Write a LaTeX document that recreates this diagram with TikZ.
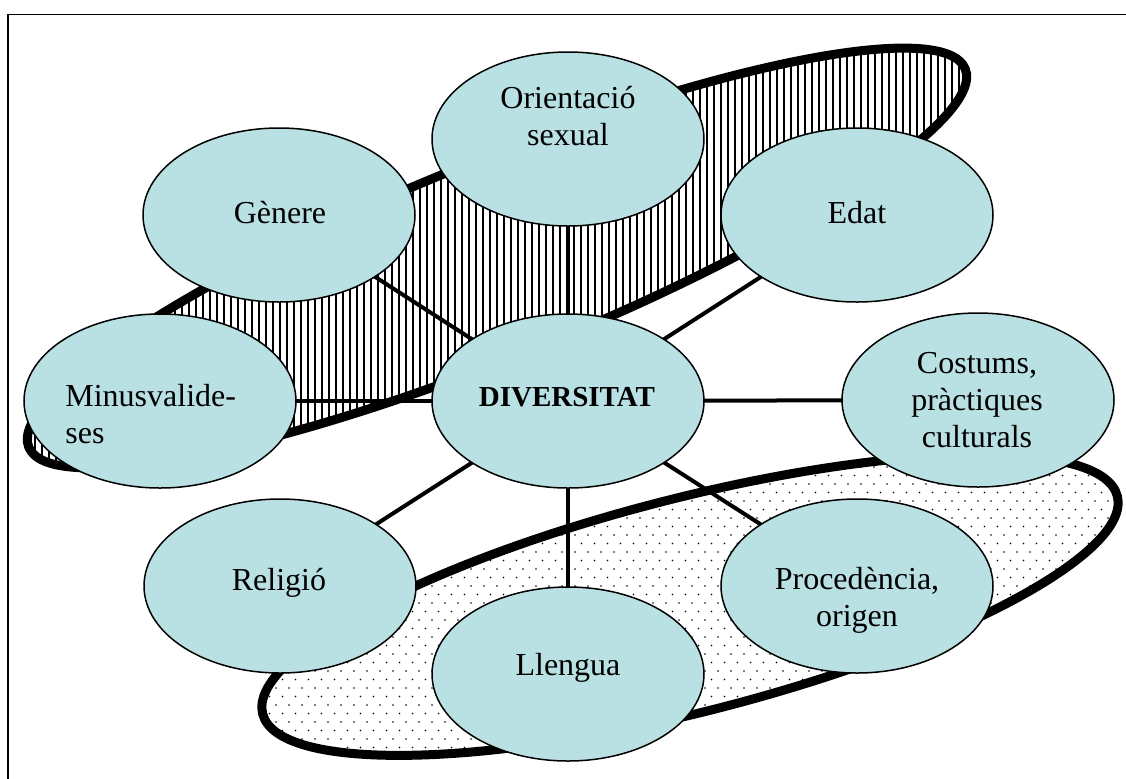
\documentclass[tikz,border=0pt]{standalone}
\usepackage{fontspec}
\setmainfont{Liberation Serif}
\usetikzlibrary{shapes.geometric}
\definecolor{nodeblue}{RGB}{185,224,227}
\pgfdeclarelayer{bg}
\pgfsetlayers{bg,main}
\begin{document}
\begin{tikzpicture}[x=0.5pt,y=0.5pt,
  topic/.style={ellipse, draw=black, line width=0.75pt, fill=nodeblue, minimum width=136pt, minimum height=87pt, inner sep=0pt},
  lbl/.style={font=\fontsize{16}{18.5}\selectfont, align=center, inner sep=0pt},
  link/.style={line width=2pt},
  band/.style={line width=4.5pt},
  hatch/.style={line width=0.6pt}]
\useasboundingbox (0,0) rectangle (1126,-778);
\draw[line width=0.75pt] (8,-790) -- (8,-14.5) -- (1140,-14.5);

\begin{pgfonlayer}{bg}
% upper hatched band
\begin{scope}
\clip[rotate around={22:(497,-258)}] (497,-258) ellipse [x radius=505, y radius=98];
\foreach \x in {14,21,...,1000} \draw[hatch] (\x,-30) -- (\x,-480);
\end{scope}
\draw[band, rotate around={22:(497,-258)}] (497,-258) ellipse [x radius=505, y radius=98];
% lower dotted band
\begin{scope}
\clip[rotate around={14.3:(690,-605)}] (690,-605) ellipse [x radius=441, y radius=107];
\foreach \r in {0,...,38} {
  \pgfmathsetmacro\yy{-450-8.5*\r}
  \pgfmathsetmacro\off{mod(\r,2)*6.5}
  \foreach \c in {0,...,68} {
    \fill ({250+\off+13*\c},\yy) circle [radius=0.9];
  }
}
\end{scope}
\draw[band, rotate around={14.3:(690,-605)}] (690,-605) ellipse [x radius=441, y radius=107];
\end{pgfonlayer}

\node[topic] (orient) at (568,-139) {};
\node[topic] (gen) at (279,-215) {};
\node[topic] (edat) at (857,-215) {};
\node[topic] (minus) at (160,-401) {};
\node[topic] (div) at (568,-401) {};
\node[topic] (cost) at (978,-400) {};
\node[topic] (rel) at (280,-586) {};
\node[topic] (llen) at (568,-674) {};
\node[topic] (proc) at (857,-586) {};

\begin{pgfonlayer}{bg}
\foreach \n in {orient,gen,edat,minus,cost,rel,llen,proc}
  \draw[link] (div.center) -- (\n.center);
\end{pgfonlayer}

\node[lbl] (t-orient) at (568,-116) {Orientació\\sexual};
\node[lbl] (t-gen) at (280,-213) {Gènere};
\node[lbl] (t-edat) at (857,-213) {Edat};
\node[lbl, font=\fontsize{14.5}{17}\selectfont\bfseries] (t-div) at (567,-397) {DIVERSITAT};
\node[lbl] (t-cost) at (977,-400) {Costums,\\pràctiques\\culturals};
\node[lbl, align=left, anchor=west] (t-minus) at (65,-414) {Minusvalide-\\ses};
\node[lbl] (t-rel) at (279,-583) {Religió};
\node[lbl] (t-llen) at (568,-668) {Llengua};
\node[lbl] (t-proc) at (857,-600) {Procedència,\\origen};
\end{tikzpicture}
\end{document}
